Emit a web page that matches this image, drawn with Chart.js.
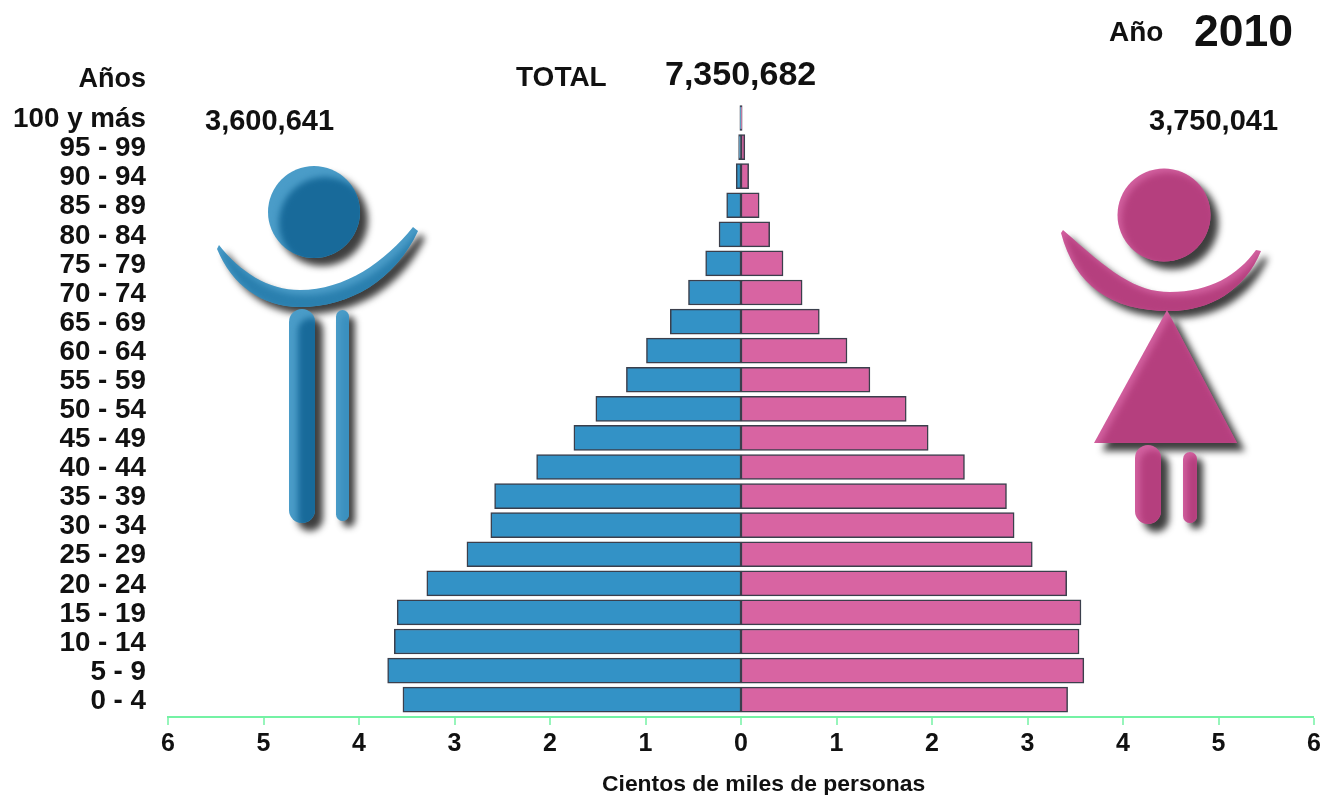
<!DOCTYPE html>
<html><head><meta charset="utf-8">
<script src="https://cdn.jsdelivr.net/npm/chart.js@4"></script>
<style>html,body{margin:0;padding:0;background:#fff}canvas{display:block}</style>
</head><body><canvas id="c" width="1326" height="795"></canvas>
<script>
const ageLabels = ['0 - 4','5 - 9','10 - 14','15 - 19','20 - 24','25 - 29','30 - 34','35 - 39','40 - 44','45 - 49','50 - 54','55 - 59','60 - 64','65 - 69','70 - 74','75 - 79','80 - 84','85 - 89','90 - 94','95 - 99','100 y más'];
const hombres = [3.54,3.70,3.63,3.60,3.29,2.87,2.62,2.58,2.14,1.75,1.52,1.20,0.99,0.74,0.55,0.37,0.23,0.15,0.05,0.025,0.012];
const mujeres = [3.42,3.59,3.54,3.56,3.41,3.05,2.86,2.78,2.34,1.96,1.73,1.35,1.11,0.82,0.64,0.44,0.30,0.19,0.08,0.04,0.012];
const xTicks = [-6,-5,-4,-3,-2,-1,0,1,2,3,4,5,6];
const FONT = '"Liberation Sans", Arial, sans-serif';

function roundedBar(c,x,y,w,h){const r=w/2;c.beginPath();c.moveTo(x,y+r);c.arc(x+r,y+r,r,Math.PI,0);c.lineTo(x+w,y+h-r);c.arc(x+r,y+h-r,r,0,Math.PI);c.closePath();}
function beveled(ctx,pathFn,light,dark,sh=[8,8],bev=6){
  ctx.save();
  ctx.filter='blur(3.5px)';ctx.fillStyle='rgba(20,20,20,.82)';
  ctx.save();ctx.translate(sh[0],sh[1]);pathFn(ctx);ctx.fill();ctx.restore();
  ctx.filter='none';
  ctx.fillStyle=light;pathFn(ctx);ctx.fill();
  ctx.save();pathFn(ctx);ctx.clip();
  ctx.filter='blur(3px)';ctx.fillStyle=dark;ctx.translate(bev,bev);pathFn(ctx);ctx.fill();
  ctx.restore();ctx.restore();
}
const iconsPlugin={id:'icons',beforeDatasetsDraw(chart){
  const c=chart.ctx;
  const mL='#4a9cc8',mD='#186a9a',fL='#d2609f',fD='#b53f7e';
  beveled(c,p=>{p.beginPath();p.arc(314,212,46,0,7);},mL,mD,[8,8],11);
  beveled(c,p=>{p.beginPath();p.moveTo(219,245);p.bezierCurveTo(240,272,268,290,300,290);p.bezierCurveTo(345,290,385,262,413,227);p.lineTo(418,231);p.bezierCurveTo(395,280,350,307,300,307);p.bezierCurveTo(262,307,232,285,217,249);p.closePath();},mL,'#2a7fae',[7,7],5);
  beveled(c,p=>roundedBar(p,289,309,26,214),mL,mD,[8,8],9);
  beveled(c,p=>roundedBar(p,336,310,13,211),mL,'#3a8fbe',[6,6],5);
  beveled(c,p=>{p.beginPath();p.arc(1164,215,46.5,0,7);},fL,fD,[8,8],4);
  beveled(c,p=>{p.beginPath();p.moveTo(1063,230);p.bezierCurveTo(1110,272,1135,292,1170,292);p.bezierCurveTo(1210,292,1238,275,1256,250);p.lineTo(1261,251);p.bezierCurveTo(1245,290,1210,311,1170,311);p.bezierCurveTo(1110,311,1075,285,1061,233);p.closePath();},fL,fD,[7,7],4);
  beveled(c,p=>{p.beginPath();p.moveTo(1167,310);p.lineTo(1237,443);p.lineTo(1094,443);p.closePath();},fL,fD,[8,8],4);
  beveled(c,p=>roundedBar(p,1135,445,26,79),fL,fD,[8,8],5);
  beveled(c,p=>roundedBar(p,1183,452,14,71),fL,fD,[6,6],4);
}};
const textPlugin={id:'texts',afterDraw(chart){
  const c=chart.ctx;c.save();c.fillStyle='#111';c.textBaseline='middle';
  const t=(s,x,y,size,a='left')=>{c.font=`bold ${size}px ${FONT}`;c.textAlign=a;c.fillText(s,x,y);};
  t('Años',146,80,27,'right');
  t('TOTAL',516,78,28);
  t('7,350,682',665,76,34);
  t('3,600,641',205,122,29);
  t('3,750,041',1149,122,29);
  t('Año',1109,33,28);
  t('2010',1194,34,44.5);
  t('Cientos de miles de personas',602,785,22.9);
  c.restore();
}};
new Chart(document.getElementById('c'),{
  type:'bar',
  data:{datasets:[
    {label:'Hombres',data:hombres.map((v,i)=>({x:-v,y:i})),backgroundColor:'#3392c6',borderColor:'#3b3f4c',borderWidth:1.5,borderSkipped:false,barThickness:25},
    {label:'Mujeres',data:mujeres.map((v,i)=>({x:v,y:i})),backgroundColor:'#d864a2',borderColor:'#3b3f4c',borderWidth:1.5,borderSkipped:false,barThickness:25}
  ]},
  options:{
    indexAxis:'y',responsive:false,animation:false,devicePixelRatio:1,
    layout:{padding:{left:0,right:12,top:100,bottom:0}},
    plugins:{legend:{display:false},tooltip:{enabled:false},title:{display:false}},
    scales:{
      x:{type:'linear',stacked:true,min:xTicks[0],max:xTicks[xTicks.length-1],
        afterFit(s){s.height=78;},
        afterBuildTicks(s){s.ticks=xTicks.map(v=>({value:v}));},
        grid:{drawOnChartArea:false,drawTicks:true,tickLength:8,lineWidth:0,tickWidth:1.5,tickColor:'#74f2a4',color:'#74f2a4'},
        border:{display:true,color:'#74f2a4',width:2},
        ticks:{color:'#111',font:{family:FONT,weight:'bold',size:25},padding:4,maxRotation:0,autoSkip:false,callback:v=>String(Math.abs(v))}
      },
      y:{type:'linear',offset:false,stacked:true,min:-0.595,max:20.62,
        afterFit(s){s.width=168;},
        grid:{display:false,drawTicks:false},border:{display:false},
        ticks:{stepSize:1,includeBounds:false,autoSkip:false,color:'#111',padding:22,labelOffset:1.5,font:{family:FONT,weight:'bold',size:27.8},
          callback:v=>ageLabels[v]??''}
      }
    }
  },
  plugins:[iconsPlugin,textPlugin]
});
</script></body></html>
